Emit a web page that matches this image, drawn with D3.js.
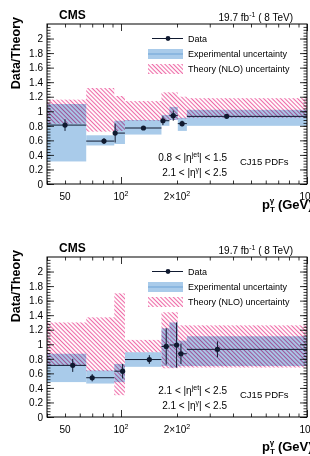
<!DOCTYPE html>
<html>
<head>
<meta charset="utf-8">
<script src="https://cdnjs.cloudflare.com/ajax/libs/d3/7.8.5/d3.min.js"></script>
<style>
body { margin: 0; background: #fff; }
svg { font-family: "Liberation Sans", Arial, sans-serif; }
.axis path { display: none; }
.axis line { stroke: #000; stroke-width: 0.8; }
.axis text { font-size: 10px; fill: #000; }
.hatch { mix-blend-mode: multiply; }
</style>
</head>
<body>
<svg width="310" height="456"></svg>
<script>
// photon pT bin edges (GeV), shared by both panels
var ptEdges = [40, 65, 92, 105, 165, 182, 202, 226, 1000];

// 0.8 < |eta jet| < 1.5
var ptTop = [50, 81, 93, 132, 168, 191, 213, 370];
var ratioTop = [0.81, 0.59, 0.70, 0.77, 0.87, 0.94, 0.83, 0.93];
var errTop = [0.08, 0.04, 0.13, 0.02, 0.06, 0.07, 0.04, 0.02];
var expLoTop = [0.31, 0.53, 0.55, 0.68, 0.80, 0.88, 0.73, 0.80];
var expHiTop = [1.10, 0.67, 0.87, 0.88, 0.95, 1.06, 0.91, 1.02];
var thLoTop = [0.83, 0.72, 0.73, 0.87, 0.88, 0.88, 0.90, 0.91];
var thHiTop = [1.16, 1.32, 1.21, 1.14, 1.26, 1.26, 1.20, 1.18];

// 2.1 < |eta jet| < 2.5
var ptBot = [55, 70, 102, 142, 175, 199, 210, 330];
var ratioBot = [0.71, 0.54, 0.63, 0.79, 0.97, 0.99, 0.87, 0.93];
var errBot = [0.09, 0.05, 0.10, 0.06, 0.25, 0.31, 0.14, 0.11];
var expLoBot = [0.48, 0.46, 0.48, 0.69, 0.70, 0.68, 0.70, 0.70];
var expHiBot = [0.87, 0.64, 0.73, 0.89, 1.22, 1.30, 1.05, 1.11];
var thLoBot = [0.71, 0.63, 0.30, 0.89, 0.67, 0.67, 0.68, 0.68];
var thHiBot = [1.30, 1.37, 1.70, 1.06, 1.44, 1.44, 1.26, 1.26];

var yTicks = [0, 0.2, 0.4, 0.6, 0.8, 1, 1.2, 1.4, 1.6, 1.8, 2];
var xMajor = [100, 1000];
var xMinor = [40, 50, 60, 70, 80, 90, 200, 300, 400, 500, 600, 700, 800, 900];
var xLabelVals = [50, 100, 200, 1000];
var xLabelBase = ["50", "10", "2\u00d710", "10"];
var xLabelExp = ["", "2", "2", "3"];

var legendNames = ["Data", "Experimental uncertainty", "Theory (NLO) uncertainty"];

var blue = "#a9cbea", pink = "#ee6aa7", ink = "#101a30";

var margin = { left: 47 },
	width = 260,
	height = 160;

var xScale = d3.scaleLog()
	.domain([40, 1000])
	.range([0, width]);

var yScale = d3.scaleLinear()
	.domain([0, 2.2])
	.range([height, 0]);

var svg = d3.select("svg");

svg.append("defs")
	.append("pattern")
		.attr("id", "hatch")
		.attr("patternUnits", "userSpaceOnUse")
		.attr("width", 3)
		.attr("height", 3)
		.attr("patternTransform", "rotate(-45)")
	.append("line")
		.attr("x1", 1.5).attr("y1", 0)
		.attr("x2", 1.5).attr("y2", 3)
		.attr("stroke", pink)
		.attr("stroke-width", 1.1);

function supText(sel, parts) {
	// parts: [text, superscript, text]
	sel.append("tspan").text(parts[0]);
	sel.append("tspan").attr("dy", -4).style("font-size", "7px").text(parts[1]);
	sel.append("tspan").attr("dy", 4).text(parts[2]);
}

function drawPanel(top, pts, ratio, err, expLo, expHi, thLo, thHi, jetLabel, titleDy) {
	var bins = pts.map(function (p, i) {
		return { lo: ptEdges[i], hi: ptEdges[i + 1], pt: p, r: ratio[i], e: err[i],
			expLo: expLo[i], expHi: expHi[i], thLo: thLo[i], thHi: thHi[i] };
	});

	var g = svg.append("g")
		.attr("transform", "translate(" + margin.left + "," + top + ")");

	g.selectAll(".exp")
		.data(bins)
		.enter().append("rect")
			.attr("x", function (d) { return xScale(d.lo); })
			.attr("width", function (d) { return xScale(d.hi) - xScale(d.lo); })
			.attr("y", function (d) { return yScale(d.expHi); })
			.attr("height", function (d) { return yScale(d.expLo) - yScale(d.expHi); })
			.attr("fill", blue);

	g.selectAll(".th")
		.data(bins)
		.enter().append("rect")
			.attr("class", "hatch")
			.attr("x", function (d) { return xScale(d.lo); })
			.attr("width", function (d) { return xScale(d.hi) - xScale(d.lo); })
			.attr("y", function (d) { return yScale(d.thHi); })
			.attr("height", function (d) { return yScale(d.thLo) - yScale(d.thHi); })
			.attr("fill", "url(#hatch)");

	// data points with bin-width bars
	var pt = g.selectAll(".pt")
		.data(bins)
		.enter().append("g");

	pt.append("line")
		.attr("x1", function (d) { return xScale(d.lo); })
		.attr("x2", function (d) { return xScale(d.hi); })
		.attr("y1", function (d) { return yScale(d.r); })
		.attr("y2", function (d) { return yScale(d.r); })
		.attr("stroke", ink).attr("stroke-width", 1);

	pt.append("line")
		.attr("x1", function (d) { return xScale(d.pt); })
		.attr("x2", function (d) { return xScale(d.pt); })
		.attr("y1", function (d) { return yScale(d.r - d.e); })
		.attr("y2", function (d) { return yScale(d.r + d.e); })
		.attr("stroke", ink).attr("stroke-width", 1);

	pt.append("circle")
		.attr("cx", function (d) { return xScale(d.pt); })
		.attr("cy", function (d) { return yScale(d.r); })
		.attr("r", 2.6)
		.attr("fill", ink);

	// axes, ROOT style ticks inside
	g.append("g").attr("class", "axis")
		.call(d3.axisLeft(yScale).tickValues(d3.range(0, 2.2, 0.04)).tickSize(-3.5).tickFormat(""));
	g.append("g").attr("class", "axis")
		.call(d3.axisLeft(yScale).tickValues(yTicks).tickSize(-7).tickPadding(4)
			.tickFormat(function (d) { return d3.format("~g")(d); }));
	g.append("g").attr("class", "axis")
		.attr("transform", "translate(" + width + ",0)")
		.call(d3.axisRight(yScale).tickValues(d3.range(0, 2.2, 0.04)).tickSize(-3.5).tickFormat(""));
	g.append("g").attr("class", "axis")
		.attr("transform", "translate(" + width + ",0)")
		.call(d3.axisRight(yScale).tickValues(yTicks).tickSize(-7).tickFormat(""));

	g.append("g").attr("class", "axis")
		.attr("transform", "translate(0," + height + ")")
		.call(d3.axisBottom(xScale).tickValues(xMinor).tickSize(-3.5).tickFormat(""));
	g.append("g").attr("class", "axis")
		.attr("transform", "translate(0," + height + ")")
		.call(d3.axisBottom(xScale).tickValues(xMajor).tickSize(-7).tickFormat(""));
	g.append("g").attr("class", "axis")
		.call(d3.axisTop(xScale).tickValues(xMinor).tickSize(-3.5).tickFormat(""));
	g.append("g").attr("class", "axis")
		.call(d3.axisTop(xScale).tickValues(xMajor).tickSize(-7).tickFormat(""));

	xLabelVals.forEach(function (v, i) {
		var t = g.append("text")
			.attr("x", xScale(v))
			.attr("y", height + 16)
			.attr("text-anchor", "middle")
			.style("font-size", "10px");
		t.append("tspan").text(xLabelBase[i]);
		if (xLabelExp[i]) t.append("tspan").attr("dy", -4).style("font-size", "7px").text(xLabelExp[i]);
	});

	g.append("rect")
		.attr("width", width)
		.attr("height", height)
		.attr("fill", "none")
		.attr("stroke", "#000")
		.attr("stroke-width", 1);

	// titles
	g.append("text")
		.attr("transform", "translate(" + (20 - margin.left) + ",-7) rotate(-90)")
		.attr("text-anchor", "end")
		.style("font-size", "12.5px").style("font-weight", "bold")
		.text("Data/Theory");

	var xt = g.append("text")
		.attr("x", 262 - margin.left)
		.attr("y", height + titleDy)
		.style("font-size", "13px").style("font-weight", "bold");
	xt.append("tspan").text("p");
	xt.append("tspan").attr("dy", 3).style("font-size", "8px").text("T");
	xt.append("tspan").attr("dx", -5).attr("dy", -9).style("font-size", "8px").text("\u03b3");
	xt.append("tspan").attr("dy", 6).text(" (GeV)");

	g.append("text")
		.attr("x", 59 - margin.left)
		.attr("y", -5)
		.style("font-size", "12px").style("font-weight", "bold")
		.text("CMS");

	var lumi = g.append("text")
		.attr("x", 293 - margin.left)
		.attr("y", -3)
		.attr("text-anchor", "end")
		.style("font-size", "10px");
	supText(lumi, ["19.7 fb", "-1", " ( 8 TeV)"]);

	// legend
	var lg = g.append("g").attr("transform", "translate(" + (148 - margin.left) + ",0)");
	var rowY = [14.5, 30, 45];
	lg.append("line").attr("x1", 4).attr("x2", 35).attr("y1", rowY[0]).attr("y2", rowY[0])
		.attr("stroke", ink);
	lg.append("circle").attr("cx", 20).attr("cy", rowY[0]).attr("r", 2.4).attr("fill", ink);
	lg.append("rect").attr("x", 0).attr("y", rowY[1] - 5).attr("width", 35).attr("height", 10)
		.attr("fill", blue);
	lg.append("line").attr("x1", 0).attr("x2", 35).attr("y1", rowY[1]).attr("y2", rowY[1])
		.attr("stroke", "#6fa3d6").attr("stroke-width", 1.2);
	lg.append("rect").attr("x", 0).attr("y", rowY[2] - 5).attr("width", 35).attr("height", 10)
		.attr("fill", "url(#hatch)");
	lg.selectAll(".lt")
		.data(legendNames)
		.enter().append("text")
			.attr("x", 40)
			.attr("y", function (d, i) { return rowY[i] + 3.3; })
			.style("font-size", "9px")
			.text(function (d) { return d; });

	// region labels
	var l1 = g.append("text").attr("x", 227 - margin.left).attr("y", 137)
		.attr("text-anchor", "end").style("font-size", "10px");
	supText(l1, [jetLabel[0] + " < |\u03b7", "jet", "| < " + jetLabel[1]]);
	var l2 = g.append("text").attr("x", 227 - margin.left).attr("y", 152)
		.attr("text-anchor", "end").style("font-size", "10px");
	supText(l2, ["2.1 < |\u03b7", "\u03b3", "| < 2.5"]);
	g.append("text").attr("x", 240 - margin.left).attr("y", 141)
		.style("font-size", "9.5px")
		.text("CJ15 PDFs");
}

drawPanel(24, ptTop, ratioTop, errTop, expLoTop, expHiTop, thLoTop, thHiTop, ["0.8", "1.5"], 25);
drawPanel(257, ptBot, ratioBot, errBot, expLoBot, expHiBot, thLoBot, thHiBot, ["2.1", "2.5"], 34);
</script>
</body>
</html>
